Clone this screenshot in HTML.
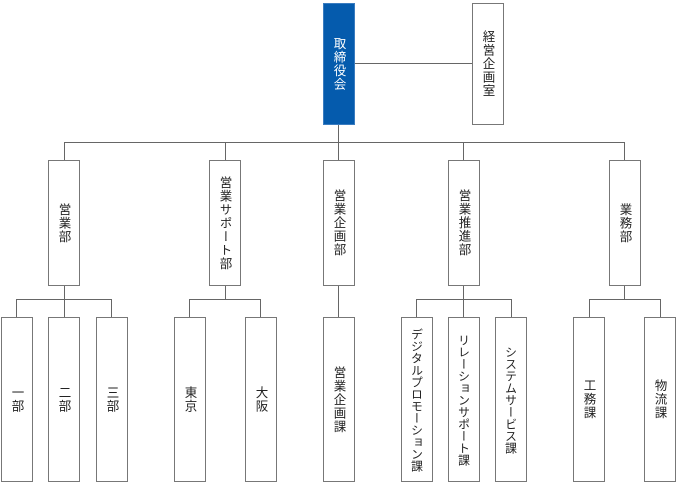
<!DOCTYPE html>
<html><head><meta charset="utf-8"><style>
body{margin:0;width:676px;height:482px;background:#fff;position:relative;overflow:hidden;font-family:"Liberation Sans","Noto Sans CJK JP",sans-serif;}
.b{position:absolute;box-sizing:border-box;border:1px solid #777;background:#fff;display:flex;align-items:center;justify-content:center;}
.b span{writing-mode:vertical-rl;font-size:12.5px;color:#222;letter-spacing:1px;}
.b span.t{font-size:12px;letter-spacing:0;}
.l{position:absolute;background:#666;}
.h{height:1px}.v{width:1px}
</style></head><body>
<div class="l h" style="left:354px;top:63px;width:118px"></div>
<div class="l v" style="left:338px;top:124px;height:36px"></div>
<div class="l h" style="left:64px;top:142px;width:561px"></div>
<div class="l v" style="left:64px;top:142px;height:18px"></div>
<div class="l v" style="left:225px;top:142px;height:18px"></div>
<div class="l v" style="left:463px;top:142px;height:18px"></div>
<div class="l v" style="left:624px;top:142px;height:18px"></div>
<div class="l v" style="left:64px;top:285px;height:32px"></div>
<div class="l h" style="left:16px;top:299px;width:96px"></div>
<div class="l v" style="left:16px;top:299px;height:18px"></div>
<div class="l v" style="left:111px;top:299px;height:18px"></div>
<div class="l v" style="left:225px;top:285px;height:14px"></div>
<div class="l h" style="left:189px;top:299px;width:72px"></div>
<div class="l v" style="left:189px;top:299px;height:18px"></div>
<div class="l v" style="left:260px;top:299px;height:18px"></div>
<div class="l v" style="left:338px;top:285px;height:32px"></div>
<div class="l v" style="left:463px;top:285px;height:32px"></div>
<div class="l h" style="left:416px;top:299px;width:96px"></div>
<div class="l v" style="left:416px;top:299px;height:18px"></div>
<div class="l v" style="left:511px;top:299px;height:18px"></div>
<div class="l v" style="left:624px;top:285px;height:14px"></div>
<div class="l h" style="left:589px;top:299px;width:72px"></div>
<div class="l v" style="left:589px;top:299px;height:18px"></div>
<div class="l v" style="left:660px;top:299px;height:18px"></div>

<div class="b" style="left:323px;top:3px;width:32px;height:122px;background:#055bad;border-color:#3a7cc0"><span style="color:#fff">取締役会</span></div>
<div class="b" style="left:472px;top:3px;width:32px;height:122px"><span>経営企画室</span></div>

<div class="b" style="left:48px;top:160px;width:32px;height:126px"><span>営業部</span></div>
<div class="b" style="left:209px;top:160px;width:32px;height:126px"><span>営業サポート部</span></div>
<div class="b" style="left:323px;top:160px;width:32px;height:126px"><span>営業企画部</span></div>
<div class="b" style="left:448px;top:160px;width:32px;height:126px"><span>営業推進部</span></div>
<div class="b" style="left:609px;top:160px;width:32px;height:126px"><span>業務部</span></div>

<div class="b" style="left:1px;top:317px;width:32px;height:165px"><span>一部</span></div>
<div class="b" style="left:48px;top:317px;width:32px;height:165px"><span>二部</span></div>
<div class="b" style="left:96px;top:317px;width:32px;height:165px"><span>三部</span></div>
<div class="b" style="left:174px;top:317px;width:32px;height:165px"><span>東京</span></div>
<div class="b" style="left:245px;top:317px;width:32px;height:165px"><span>大阪</span></div>
<div class="b" style="left:323px;top:317px;width:32px;height:165px"><span>営業企画課</span></div>
<div class="b" style="left:401px;top:317px;width:32px;height:165px"><span class="t">デジタルプロモーション課</span></div>
<div class="b" style="left:448px;top:317px;width:32px;height:165px"><span class="t">リレーションサポート課</span></div>
<div class="b" style="left:495px;top:317px;width:32px;height:165px"><span class="t">システムサービス課</span></div>
<div class="b" style="left:573px;top:317px;width:32px;height:165px"><span>工務課</span></div>
<div class="b" style="left:644px;top:317px;width:32px;height:165px"><span>物流課</span></div>
</body></html>
